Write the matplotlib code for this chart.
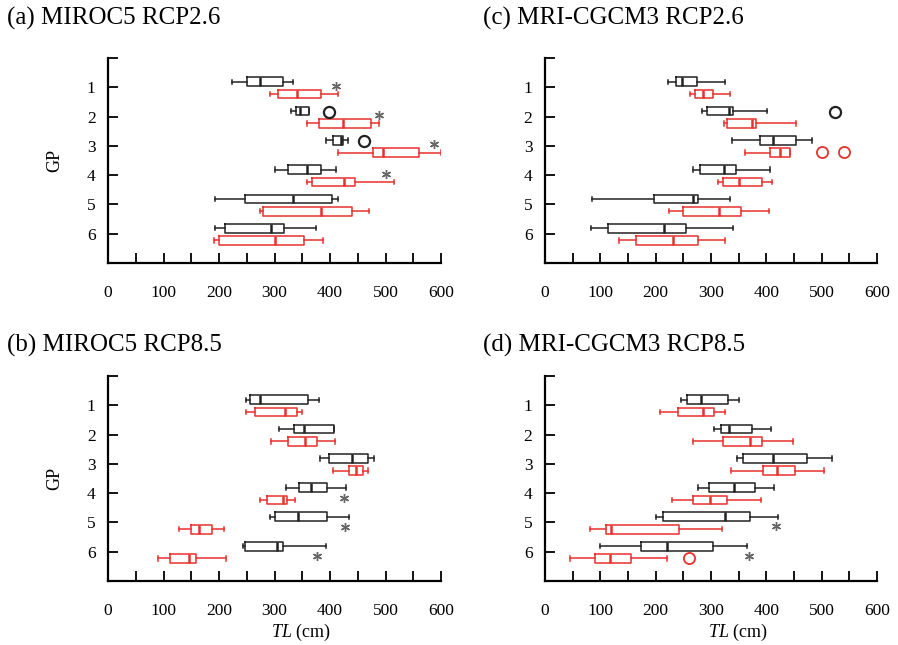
import matplotlib
matplotlib.use("Agg")
import matplotlib.pyplot as plt

plt.rcParams['font.family'] = ['Liberation Serif', 'DejaVu Serif']
plt.rcParams['mathtext.fontset'] = 'custom'
plt.rcParams['mathtext.rm'] = 'Liberation Serif'
plt.rcParams['mathtext.it'] = 'Liberation Serif:italic'

groups = [1, 2, 3, 4, 5, 6]

# five number summaries per group: whisker low, q1, median, q3, whisker high
a_base = [[224, 251, 273, 316, 334], [330, 338, 346, 362, 362], [393, 406, 419, 423, 433],
          [300, 324, 358, 383, 411], [193, 247, 333, 404, 415], [192, 210, 293, 317, 374]]
a_proj = [[292, 306, 341, 383, 414], [359, 380, 423, 474, 489], [415, 477, 495, 560, 600],
          [359, 368, 425, 445, 516], [273, 280, 383, 439, 471], [191, 200, 300, 354, 388]]
a_base_circles = [(2, 398), (3, 462)]
a_proj_circles = []
a_stars = [(1, 410), (2, 489), (3, 587), (4, 500)]

b_base = [[248, 255, 273, 361, 380], [308, 335, 353, 408, 408], [382, 398, 439, 468, 480],
          [320, 344, 365, 395, 428], [291, 301, 342, 395, 435], [244, 247, 304, 315, 392]]
b_proj = [[248, 264, 318, 340, 350], [294, 324, 355, 377, 409], [406, 435, 447, 460, 469],
          [274, 287, 316, 323, 337], [128, 150, 164, 188, 209], [90, 111, 146, 159, 213]]
b_base_circles = []
b_proj_circles = []
b_stars = [(4, 426), (5, 427), (6, 376)]

c_base = [[223, 237, 247, 274, 325], [283, 292, 332, 339, 401], [338, 388, 412, 453, 483],
          [268, 281, 324, 346, 406], [85, 197, 267, 276, 335], [83, 113, 215, 255, 339]]
c_proj = [[262, 271, 286, 303, 335], [324, 329, 375, 382, 454], [362, 406, 424, 443, 443],
          [313, 321, 350, 392, 410], [224, 249, 315, 354, 405], [134, 165, 232, 276, 326]]
c_base_circles = [(2, 525)]
c_proj_circles = [(3, 500), (3, 540)]
c_stars = []

d_base = [[246, 257, 282, 330, 350], [305, 318, 332, 375, 409], [347, 357, 412, 474, 519],
          [276, 297, 342, 380, 414], [201, 214, 326, 371, 421], [100, 173, 220, 303, 365]]
d_proj = [[208, 241, 285, 306, 325], [267, 321, 370, 393, 448], [337, 394, 420, 451, 505],
          [230, 268, 298, 329, 390], [81, 110, 120, 243, 319], [46, 91, 117, 155, 220]]
d_base_circles = []
d_proj_circles = [(6, 261)]
d_stars = [(5, 418), (6, 369)]

titles = ['(a) MIROC5 RCP2.6', '(b) MIROC5 RCP8.5', '(c) MRI-CGCM3 RCP2.6', '(d) MRI-CGCM3 RCP8.5']

BLACK = '#222222'
RED = '#e8302c'
STAR = '#666666'


def draw_boxes(ax, summaries, offset, color):
    stats = []
    for s in summaries:
        stats.append({'whislo': s[0], 'q1': s[1], 'med': s[2], 'q3': s[3], 'whishi': s[4], 'fliers': []})
    pos = [g + offset for g in groups]
    line = dict(color=color, linewidth=1.1)
    ax.bxp(stats, positions=pos, widths=0.3, orientation='horizontal', showfliers=False,
           boxprops=line, whiskerprops=line, capprops=line,
           medianprops=dict(color=color, linewidth=1.8), manage_ticks=False)


def draw_panel(ax, base, proj, base_circles, proj_circles, stars, star_off, title, tpos, bottom):
    draw_boxes(ax, base, -0.19, BLACK)
    draw_boxes(ax, proj, 0.23, RED)

    for g, v in base_circles:
        ax.plot(v, g - 0.17, 'o', mfc='none', mec=BLACK, ms=8, mew=1.6)
    for g, v in proj_circles:
        ax.plot(v, g + 0.22, 'o', mfc='none', mec=RED, ms=8, mew=1.3)
    for g, v in stars:
        ax.plot(v, g + star_off, marker=(6, 2, 0), color=STAR, ms=6.5, mew=1.0, ls='none')

    ax.set_xlim(0, 600)
    ax.set_ylim(7, 0)
    ax.set_xticks(range(0, 601, 50))
    ax.set_xticklabels([str(t) if t % 100 == 0 else '' for t in range(0, 601, 50)])
    ax.set_yticks(range(0, 8))
    ax.set_yticklabels([''] + [str(g) for g in groups] + [''])
    ax.tick_params(direction='in', length=7, width=1.3, labelsize=12.5)
    ax.tick_params(axis='x', pad=16)
    ax.tick_params(axis='y', pad=9)
    for side in ['top', 'right']:
        ax.spines[side].set_visible(False)
    for side in ['left', 'bottom']:
        ax.spines[side].set_linewidth(1.6)

    fig.text(tpos[0], tpos[1], title, fontsize=18, ha='left', va='center')
    if bottom:
        ax.set_xlabel('$\\mathit{TL}$ (cm)', fontsize=13)
        ax.xaxis.set_label_coords(0.58, -0.2)


fig = plt.figure(figsize=(8.98, 6.45), dpi=100)
ax_a = fig.add_axes([0.1203, 0.5922, 0.3708, 0.3178])
ax_c = fig.add_axes([0.6069, 0.5922, 0.3697, 0.3178])
ax_b = fig.add_axes([0.1203, 0.0992, 0.3708, 0.3178])
ax_d = fig.add_axes([0.6069, 0.0992, 0.3697, 0.3178])

draw_panel(ax_a, a_base, a_proj, a_base_circles, a_proj_circles, a_stars, -0.05, titles[0], (0.008, 0.972), False)
draw_panel(ax_b, b_base, b_proj, b_base_circles, b_proj_circles, b_stars, 0.15, titles[1], (0.008, 0.465), True)
draw_panel(ax_c, c_base, c_proj, c_base_circles, c_proj_circles, c_stars, 0.0, titles[2], (0.538, 0.972), False)
draw_panel(ax_d, d_base, d_proj, d_base_circles, d_proj_circles, d_stars, 0.13, titles[3], (0.538, 0.465), True)

for ax in [ax_a, ax_b]:
    ax.set_ylabel('GP', fontsize=13)
    ax.yaxis.set_label_coords(-0.135, 0.5)

fig.savefig('out.png', dpi=100)
